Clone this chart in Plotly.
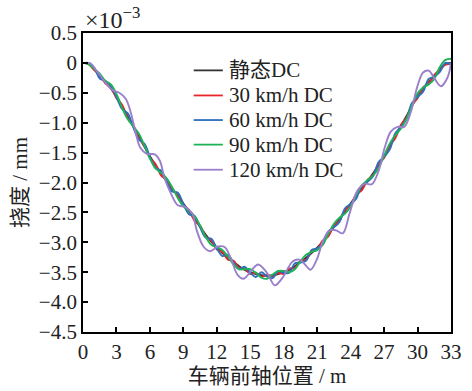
import plotly.graph_objects as go

# Front-axle position along the bridge (m)
pos = [i * 0.5 for i in range(67)]

# Static deflection (x1e-3 mm)
static_dc = [0, -0.02, -0.10, -0.22, -0.32, -0.43, -0.56, -0.72, -0.89, -1.06, -1.23, -1.40,
             -1.56, -1.71, -1.85, -1.98, -2.10, -2.22, -2.35, -2.48, -2.61, -2.74, -2.87, -2.99,
             -3.09, -3.18, -3.26, -3.33, -3.40, -3.46, -3.50, -3.53, -3.55, -3.56,
             -3.55, -3.53, -3.50, -3.46, -3.40, -3.33, -3.26, -3.18, -3.09, -2.99, -2.87, -2.74,
             -2.61, -2.48, -2.35, -2.22, -2.10, -1.98, -1.85, -1.71, -1.56, -1.40, -1.23, -1.06,
             -0.89, -0.72, -0.56, -0.43, -0.32, -0.22, -0.10, -0.02, 0]

v30_dc = [0, -0.02, -0.12, -0.20, -0.34, -0.41, -0.59, -0.70, -0.92, -1.04, -1.26, -1.38,
          -1.59, -1.69, -1.88, -1.96, -2.13, -2.20, -2.38, -2.46, -2.64, -2.72, -2.90, -2.97,
          -3.12, -3.16, -3.29, -3.31, -3.43, -3.44, -3.53, -3.51, -3.58, -3.54,
          -3.58, -3.51, -3.53, -3.44, -3.43, -3.31, -3.29, -3.16, -3.12, -2.97, -2.90, -2.72,
          -2.64, -2.46, -2.38, -2.20, -2.13, -1.96, -1.88, -1.69, -1.59, -1.38, -1.26, -1.04,
          -0.92, -0.70, -0.59, -0.41, -0.34, -0.20, -0.12, -0.03, -0.02]

v60_dc = [0, -0.01, -0.08, -0.26, -0.30, -0.38, -0.57, -0.77, -0.84, -1.07, -1.28, -1.35,
          -1.57, -1.76, -1.80, -1.99, -2.15, -2.17, -2.36, -2.53, -2.56, -2.75, -2.92, -2.94,
          -3.10, -3.23, -3.21, -3.34, -3.45, -3.41, -3.51, -3.58, -3.50, -3.57,
          -3.60, -3.48, -3.51, -3.51, -3.35, -3.34, -3.31, -3.13, -3.10, -3.04, -2.82, -2.75,
          -2.66, -2.43, -2.36, -2.27, -2.05, -1.99, -1.90, -1.66, -1.57, -1.45, -1.18, -1.07,
          -0.94, -0.67, -0.57, -0.48, -0.27, -0.23, -0.15, 0.00, -0.03]

v90_dc = [0, -0.02, -0.10, -0.18, -0.30, -0.36, -0.52, -0.75, -0.94, -1.06, -1.18, -1.38,
          -1.60, -1.76, -1.84, -1.93, -2.08, -2.26, -2.40, -2.47, -2.56, -2.72, -2.91, -3.04,
          -3.08, -3.13, -3.24, -3.37, -3.45, -3.45, -3.45, -3.51, -3.59, -3.61,
          -3.54, -3.48, -3.48, -3.50, -3.45, -3.32, -3.21, -3.16, -3.13, -3.04, -2.86, -2.69,
          -2.59, -2.52, -2.40, -2.21, -2.05, -1.96, -1.89, -1.76, -1.55, -1.35, -1.21, -1.10,
          -0.94, -0.71, -0.51, -0.41, -0.36, -0.27, -0.07, 0.05, 0.07]

# 120 km/h response, sampled at its crests, troughs and flats
pos_120 = [0, 0.64, 1.2, 2.1, 2.67, 3.25, 3.83, 4.27, 4.7, 5.14, 5.72, 6.44, 6.9, 7.3, 7.9,
           8.5, 9.2, 9.8, 10.2, 10.8, 11.4, 12.1, 12.7, 13.3, 13.85, 14.4, 15.15, 15.7, 16.5,
           17.2, 17.9, 18.8, 19.4, 19.9, 20.4, 20.96, 21.5, 22.1, 22.7, 23.3, 23.9, 24.6,
           25.3, 25.9, 26.5, 27.05, 27.6, 28.2, 28.8, 29.4, 29.96, 30.5, 31.0, 31.55, 32.1,
           32.7, 33.0]
v120_dc = [0, -0.005, -0.13, -0.35, -0.46, -0.50, -0.60, -0.82, -1.15, -1.42, -1.52, -1.53,
           -1.64, -1.92, -2.19, -2.38, -2.41, -2.52, -2.80, -3.07, -3.15, -3.07, -3.08, -3.29,
           -3.54, -3.61, -3.46, -3.37, -3.51, -3.72, -3.59, -3.32, -3.29, -3.37, -3.46, -3.29,
           -2.99, -2.80, -2.80, -2.85, -2.52, -2.14, -2.02, -2.03, -1.81, -1.42, -1.15, -1.07,
           -1.07, -0.82, -0.41, -0.16, -0.13, -0.27, -0.39, -0.24, 0.0]

series = [
    ("静态DC", pos, static_dc, "#333333"),
    ("30 km/h DC", pos, v30_dc, "#e8262b"),
    ("60 km/h DC", pos, v60_dc, "#2c6fbd"),
    ("90 km/h DC", pos, v90_dc, "#1db35a"),
    ("120 km/h DC", pos_120, v120_dc, "#9b7fca"),
]

y_ticks = [0.5, 0, -0.5, -1.0, -1.5, -2.0, -2.5, -3.0, -3.5, -4.0, -4.5]
y_labels = ["0.5", "0", "−0.5", "−1.0", "−1.5", "−2.0", "−2.5", "−3.0", "−3.5", "−4.0", "−4.5"]
x_ticks = list(range(0, 34, 3))

FONT = "Liberation Serif, Times New Roman, Noto Sans CJK SC, serif"
INK = "#222"

W, H = 472, 391
ML, MR, MT, MB = 83, 10, 33, 54


def px_to_paper(px, py):
    """Convert pixel position in the figure to paper coordinates."""
    return (px - ML) / (W - ML - MR), 1 - (py - MT) / (H - MT - MB)


fig = go.Figure()
for name, xs, ys, color in series:
    fig.add_trace(go.Scatter(
        x=xs, y=ys, name=name, mode="lines", showlegend=False,
        line=dict(color=color, width=1.9, shape="spline", smoothing=1.0),
    ))

# Hand-placed legend block: short line sample followed by the label
legend_rows = [71, 96.5, 121.5, 146.5, 172]
for (name, _, _, color), row_y in zip(series, legend_rows):
    x0, y0 = px_to_paper(197, row_y)
    x1, _ = px_to_paper(227, row_y)
    fig.add_shape(type="line", xref="paper", yref="paper", x0=x0, x1=x1, y0=y0, y1=y0,
                  line=dict(color=color, width=1.8))
    tx, _ = px_to_paper(231, row_y)
    fig.add_annotation(xref="paper", yref="paper", x=tx, y=y0, xanchor="left", yanchor="middle",
                       text=name, showarrow=False, font=dict(family=FONT, size=21, color=INK))

axis_common = dict(
    showline=True, linecolor="black", linewidth=1.8, mirror=True,
    ticks="inside", ticklen=5, tickwidth=1.5, tickcolor="black",
    showgrid=False, zeroline=False,
    tickfont=dict(family=FONT, size=21, color=INK),
)

fig.update_layout(
    width=W, height=H,
    margin=dict(l=ML, r=MR, t=MT, b=MB),
    paper_bgcolor="white", plot_bgcolor="white",
    font=dict(family=FONT, color=INK),
    xaxis=dict(range=[0, 33], tickvals=x_ticks,
               title=dict(text="车辆前轴位置 / m", font=dict(family=FONT, size=21), standoff=2),
               **axis_common),
    yaxis=dict(range=[-4.5, 0.5], tickvals=y_ticks, ticktext=y_labels,
               title=dict(text="挠度 / mm", font=dict(family=FONT, size=21), standoff=5),
               **axis_common),
    showlegend=False,
)

fig.add_annotation(
    xref="paper", yref="paper", x=0.0, y=1.0, xanchor="left", yanchor="bottom",
    text="×10<sup>−3</sup>", showarrow=False,
    font=dict(family=FONT, size=24, color=INK), yshift=-2,
)

fig.write_html("out.html")
